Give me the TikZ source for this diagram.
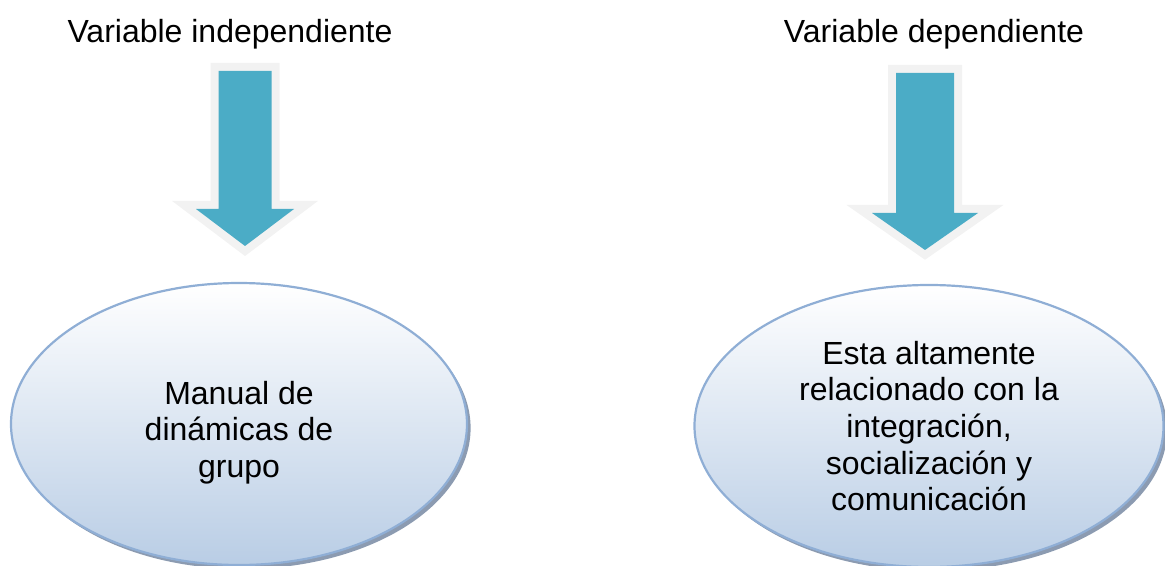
\documentclass[tikz,border=0pt]{standalone}
\usepackage{fontspec}
\setmainfont{Liberation Sans}
\usepackage{tikz}
\usetikzlibrary{shapes.geometric,shadows}
\definecolor{arrowteal}{HTML}{4BACC6}
\definecolor{glowgray}{HTML}{F2F2F2}
\definecolor{ovalline}{HTML}{8FAED5}
\definecolor{ovalfill}{HTML}{B9CDE5}
\definecolor{ovalshadow}{HTML}{7F90A8}
\tikzset{
	title/.style = {anchor=base, font=\fontsize{16}{18.4}\selectfont},
	oval/.style = {ellipse, draw=ovalline, line width=1.1pt, top color=white, bottom color=ovalfill,
		align=center, font=\fontsize{16}{18.3}\selectfont, inner sep=0pt,
		drop shadow={shadow xshift=1.8pt, shadow yshift=-2pt, fill=ovalshadow, opacity=0.9}},
	blockarrow/.style = {fill=arrowteal, preaction={draw=glowgray, line width=8pt, line join=miter}}
}

\begin{document}
\begin{tikzpicture}[x=0.5pt, y=-0.5pt]
		\useasboundingbox (0,0) rectangle (1165,566);
		% titles
		\node[title] (indep) at (230,43) {Variable independiente};
		\node[title] (dep) at (934,43) {Variable dependiente};
		% block arrows
		\foreach \cx/\sw/\hw/\ya/\yb/\yc in {245/26.5/49/71/209/246, 925/29/53/73/213/250}
			\path[blockarrow] ({\cx-\sw},\ya) -- ({\cx+\sw},\ya) -- ({\cx+\sw},\yb) -- ({\cx+\hw},\yb)
				-- (\cx,\yc) -- ({\cx-\hw},\yb) -- ({\cx-\sw},\yb) -- cycle;
		% ovals
		\node[oval, minimum width=228pt, minimum height=141pt] (manual) at (239,424)
			{\rule{0pt}{20pt}Manual de\\dinámicas de\\grupo};
		\node[oval, minimum width=234.5pt, minimum height=141pt] (relac) at (929,426)
			{Esta altamente\\relacionado con la\\integración,\\socialización y\\comunicación};
	\end{tikzpicture}
\end{document}
